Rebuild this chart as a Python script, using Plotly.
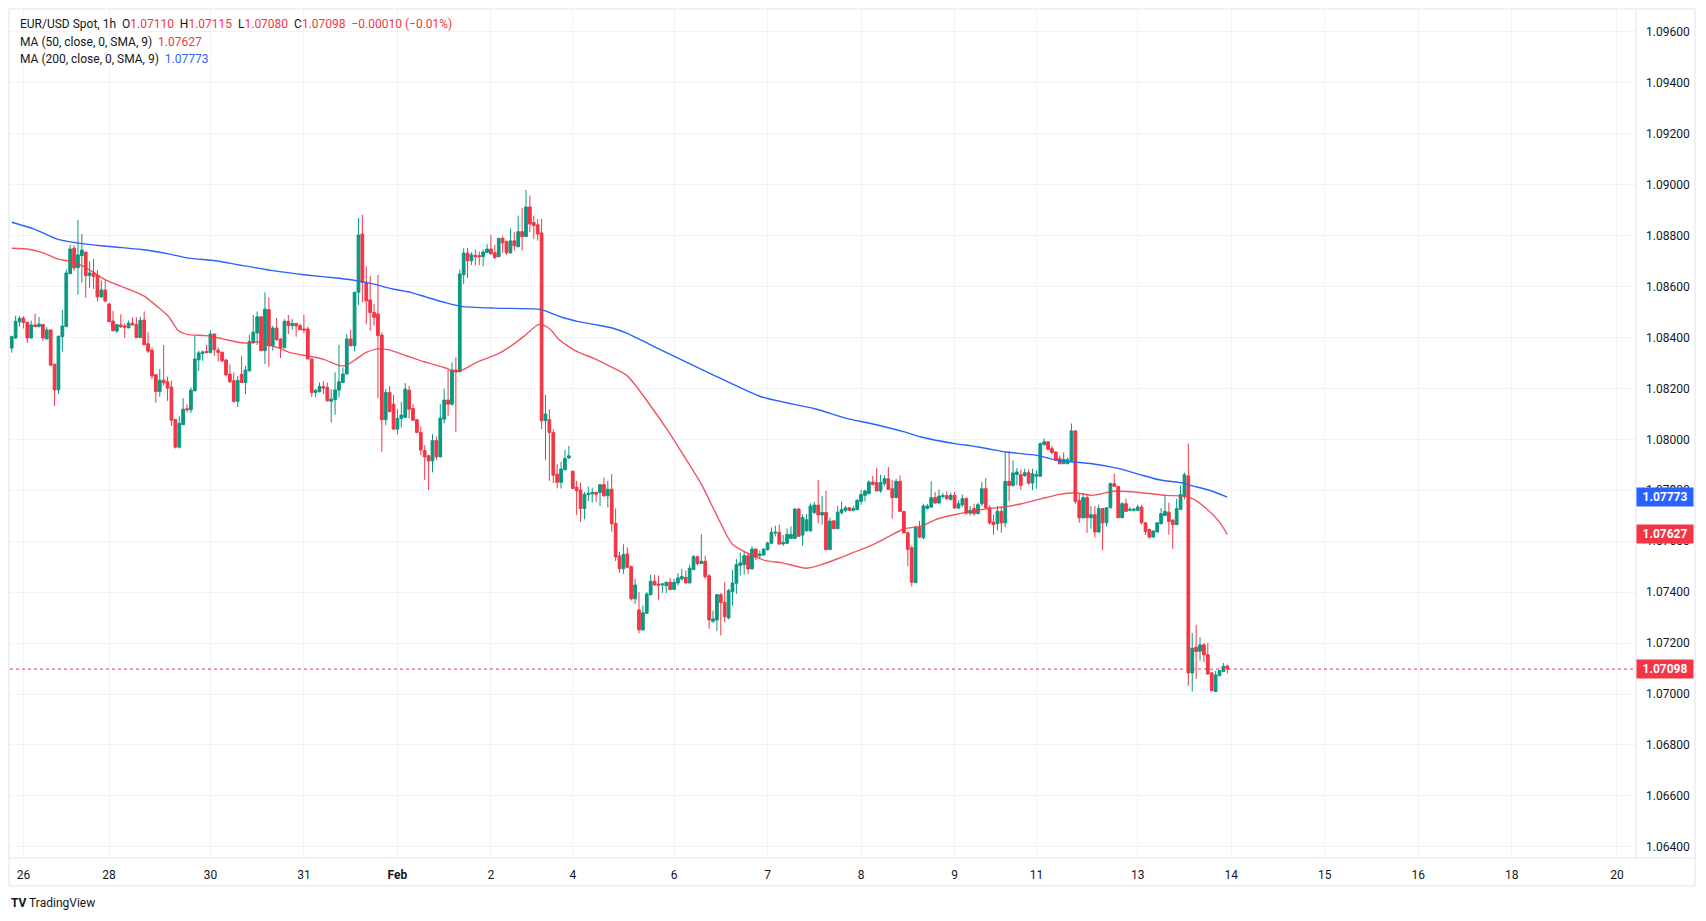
import plotly.graph_objects as go

# ---------------- data (EUR/USD spot, 1h bars) ----------------
bar_open = [
    1.08358, 1.08398, 1.08461, 1.08476, 1.08459, 1.08398, 1.08449, 1.08442, 1.08451, 1.08394,
    1.08429, 1.08295, 1.08194, 1.08403, 1.08442, 1.08650, 1.08750, 1.08674, 1.08721, 1.08735,
    1.08643, 1.08653, 1.08643, 1.08559, 1.08586, 1.08531, 1.08464, 1.08425, 1.08449, 1.08445,
    1.08437, 1.08456, 1.08451, 1.08399, 1.08468, 1.08375, 1.08350, 1.08253, 1.08188, 1.08232,
    1.08226, 1.08205, 1.08078, 1.07969, 1.08057, 1.08120, 1.08116, 1.08190, 1.08312, 1.08337,
    1.08345, 1.08340, 1.08413, 1.08350, 1.08342, 1.08311, 1.08256, 1.08230, 1.08149, 1.08255,
    1.08223, 1.08269, 1.08380, 1.08417, 1.08481, 1.08348, 1.08509, 1.08367, 1.08437, 1.08394,
    1.08359, 1.08463, 1.08446, 1.08455, 1.08446, 1.08433, 1.08433, 1.08315, 1.08184, 1.08187,
    1.08207, 1.08204, 1.08149, 1.08156, 1.08193, 1.08223, 1.08256, 1.08394, 1.08367, 1.08577,
    1.08806, 1.08616, 1.08547, 1.08498, 1.08492, 1.08409, 1.08077, 1.08184, 1.08138, 1.08040,
    1.08082, 1.08086, 1.08193, 1.08121, 1.08077, 1.08027, 1.07956, 1.07935, 1.07915, 1.07995,
    1.07931, 1.08079, 1.08154, 1.08138, 1.08272, 1.08265, 1.08646, 1.08731, 1.08701, 1.08722,
    1.08721, 1.08717, 1.08733, 1.08747, 1.08732, 1.08717, 1.08789, 1.08776, 1.08732, 1.08779,
    1.08756, 1.08815, 1.08796, 1.08912, 1.08851, 1.08842, 1.08810, 1.08073, 1.08077, 1.08027,
    1.07863, 1.07831, 1.07880, 1.07927, 1.07875, 1.07812, 1.07801, 1.07728, 1.07783, 1.07786,
    1.07792, 1.07791, 1.07822, 1.07778, 1.07804, 1.07670, 1.07542, 1.07492, 1.07550, 1.07500,
    1.07374, 1.07330, 1.07252, 1.07317, 1.07390, 1.07443, 1.07432, 1.07428, 1.07426, 1.07439,
    1.07410, 1.07436, 1.07452, 1.07458, 1.07436, 1.07488, 1.07539, 1.07512, 1.07521, 1.07464,
    1.07285, 1.07291, 1.07390, 1.07360, 1.07299, 1.07402, 1.07435, 1.07504, 1.07508, 1.07543,
    1.07491, 1.07569, 1.07543, 1.07546, 1.07567, 1.07592, 1.07632, 1.07635, 1.07589, 1.07592,
    1.07611, 1.07611, 1.07726, 1.07624, 1.07641, 1.07641, 1.07713, 1.07742, 1.07703, 1.07713,
    1.07567, 1.07680, 1.07649, 1.07712, 1.07721, 1.07731, 1.07721, 1.07724, 1.07756, 1.07780,
    1.07786, 1.07832, 1.07830, 1.07797, 1.07826, 1.07845, 1.07806, 1.07771, 1.07835, 1.07717,
    1.07633, 1.07574, 1.07437, 1.07654, 1.07614, 1.07728, 1.07734, 1.07771, 1.07750, 1.07775,
    1.07779, 1.07764, 1.07780, 1.07730, 1.07743, 1.07767, 1.07710, 1.07728, 1.07708, 1.07747,
    1.07806, 1.07731, 1.07675, 1.07669, 1.07717, 1.07672, 1.07835, 1.07819, 1.07862, 1.07861,
    1.07858, 1.07869, 1.07828, 1.07855, 1.07855, 1.07979, 1.07990, 1.07963, 1.07950, 1.07924,
    1.07904, 1.07904, 1.07917, 1.08033, 1.07760, 1.07692, 1.07771, 1.07692, 1.07704, 1.07636,
    1.07728, 1.07672, 1.07731, 1.07826, 1.07815, 1.07692, 1.07747, 1.07721, 1.07721, 1.07721,
    1.07734, 1.07672, 1.07646, 1.07616, 1.07636, 1.07669, 1.07701, 1.07714, 1.07682, 1.07665,
    1.07725, 1.07777, 1.07856, 1.07083, 1.07184, 1.07168, 1.07193, 1.07154, 1.07083, 1.07010,
    1.07072, 1.07088, 1.07110,
]

bar_high = [
    1.08407, 1.08485, 1.08485, 1.08483, 1.08462, 1.08466, 1.08494, 1.08480, 1.08451, 1.08440,
    1.08433, 1.08295, 1.08405, 1.08508, 1.08666, 1.08763, 1.08762, 1.08861, 1.08806, 1.08735,
    1.08699, 1.08708, 1.08665, 1.08623, 1.08625, 1.08535, 1.08504, 1.08452, 1.08491, 1.08455,
    1.08466, 1.08479, 1.08479, 1.08481, 1.08502, 1.08420, 1.08361, 1.08255, 1.08276, 1.08370,
    1.08246, 1.08230, 1.08078, 1.08091, 1.08162, 1.08137, 1.08204, 1.08409, 1.08348, 1.08348,
    1.08371, 1.08429, 1.08416, 1.08361, 1.08342, 1.08315, 1.08294, 1.08263, 1.08249, 1.08328,
    1.08289, 1.08411, 1.08488, 1.08502, 1.08481, 1.08577, 1.08557, 1.08446, 1.08476, 1.08396,
    1.08472, 1.08488, 1.08472, 1.08456, 1.08454, 1.08488, 1.08442, 1.08318, 1.08197, 1.08223,
    1.08228, 1.08223, 1.08197, 1.08263, 1.08371, 1.08282, 1.08413, 1.08430, 1.08579, 1.08869,
    1.08881, 1.08679, 1.08642, 1.08531, 1.08645, 1.08420, 1.08197, 1.08209, 1.08174, 1.08118,
    1.08147, 1.08221, 1.08210, 1.08138, 1.08079, 1.08051, 1.07977, 1.07940, 1.08020, 1.08011,
    1.08138, 1.08199, 1.08272, 1.08302, 1.08322, 1.08666, 1.08750, 1.08750, 1.08734, 1.08745,
    1.08737, 1.08745, 1.08767, 1.08802, 1.08763, 1.08789, 1.08797, 1.08780, 1.08828, 1.08813,
    1.08878, 1.08907, 1.08979, 1.08957, 1.08878, 1.08865, 1.08865, 1.08174, 1.08118, 1.08040,
    1.07902, 1.07912, 1.07959, 1.07974, 1.07875, 1.07837, 1.07830, 1.07793, 1.07814, 1.07810,
    1.07793, 1.07822, 1.07850, 1.07837, 1.07863, 1.07728, 1.07558, 1.07588, 1.07576, 1.07504,
    1.07452, 1.07400, 1.07347, 1.07400, 1.07469, 1.07468, 1.07465, 1.07436, 1.07441, 1.07455,
    1.07452, 1.07475, 1.07491, 1.07485, 1.07507, 1.07546, 1.07543, 1.07628, 1.07543, 1.07471,
    1.07328, 1.07393, 1.07397, 1.07439, 1.07413, 1.07487, 1.07530, 1.07556, 1.07559, 1.07554,
    1.07580, 1.07572, 1.07563, 1.07572, 1.07598, 1.07654, 1.07661, 1.07665, 1.07624, 1.07650,
    1.07658, 1.07730, 1.07730, 1.07706, 1.07706, 1.07749, 1.07755, 1.07840, 1.07778, 1.07798,
    1.07693, 1.07682, 1.07738, 1.07756, 1.07738, 1.07733, 1.07738, 1.07767, 1.07803, 1.07803,
    1.07839, 1.07856, 1.07887, 1.07861, 1.07859, 1.07891, 1.07841, 1.07845, 1.07858, 1.07717,
    1.07636, 1.07583, 1.07659, 1.07680, 1.07747, 1.07747, 1.07835, 1.07793, 1.07803, 1.07790,
    1.07796, 1.07790, 1.07793, 1.07760, 1.07783, 1.07773, 1.07738, 1.07747, 1.07751, 1.07832,
    1.07848, 1.07741, 1.07704, 1.07738, 1.07738, 1.07950, 1.07954, 1.07917, 1.07887, 1.07882,
    1.07885, 1.07882, 1.07885, 1.07878, 1.07987, 1.08003, 1.07992, 1.07974, 1.07953, 1.07937,
    1.07948, 1.07927, 1.08062, 1.08035, 1.07786, 1.07790, 1.07783, 1.07738, 1.07738, 1.07743,
    1.07730, 1.07734, 1.07830, 1.07865, 1.07817, 1.07754, 1.07767, 1.07734, 1.07731, 1.07743,
    1.07743, 1.07675, 1.07649, 1.07642, 1.07675, 1.07730, 1.07780, 1.07751, 1.07688, 1.07767,
    1.07819, 1.07869, 1.07983, 1.07240, 1.07272, 1.07223, 1.07201, 1.07201, 1.07086, 1.07092,
    1.07092, 1.07122, 1.07115,
]

bar_low = [
    1.08340, 1.08394, 1.08442, 1.08435, 1.08378, 1.08395, 1.08442, 1.08442, 1.08387, 1.08394,
    1.08289, 1.08131, 1.08179, 1.08344, 1.08442, 1.08650, 1.08662, 1.08568, 1.08615, 1.08555,
    1.08595, 1.08590, 1.08542, 1.08556, 1.08538, 1.08459, 1.08424, 1.08417, 1.08437, 1.08398,
    1.08437, 1.08446, 1.08398, 1.08399, 1.08371, 1.08339, 1.08236, 1.08143, 1.08167, 1.08210,
    1.08151, 1.08053, 1.07964, 1.07964, 1.08057, 1.08105, 1.08103, 1.08190, 1.08269, 1.08308,
    1.08340, 1.08340, 1.08328, 1.08305, 1.08302, 1.08247, 1.08221, 1.08143, 1.08127, 1.08221,
    1.08177, 1.08265, 1.08374, 1.08370, 1.08348, 1.08295, 1.08285, 1.08348, 1.08387, 1.08319,
    1.08359, 1.08413, 1.08430, 1.08403, 1.08430, 1.08417, 1.08315, 1.08167, 1.08164, 1.08184,
    1.08177, 1.08149, 1.08066, 1.08096, 1.08164, 1.08221, 1.08256, 1.08367, 1.08346, 1.08527,
    1.08538, 1.08452, 1.08426, 1.08446, 1.08162, 1.07951, 1.08056, 1.08105, 1.08037, 1.08020,
    1.08046, 1.08083, 1.08082, 1.08073, 1.08024, 1.07937, 1.07841, 1.07802, 1.07870, 1.07919,
    1.07931, 1.08062, 1.08092, 1.08132, 1.08029, 1.08265, 1.08610, 1.08633, 1.08684, 1.08682,
    1.08684, 1.08679, 1.08732, 1.08724, 1.08708, 1.08717, 1.08732, 1.08724, 1.08728, 1.08742,
    1.08754, 1.08741, 1.08796, 1.08813, 1.08786, 1.08780, 1.08040, 1.07919, 1.07837, 1.07828,
    1.07807, 1.07807, 1.07879, 1.07922, 1.07804, 1.07703, 1.07677, 1.07686, 1.07758, 1.07752,
    1.07754, 1.07738, 1.07775, 1.07732, 1.07637, 1.07522, 1.07476, 1.07472, 1.07494, 1.07367,
    1.07354, 1.07238, 1.07248, 1.07314, 1.07387, 1.07426, 1.07370, 1.07397, 1.07396, 1.07409,
    1.07410, 1.07426, 1.07445, 1.07436, 1.07436, 1.07488, 1.07504, 1.07512, 1.07452, 1.07256,
    1.07281, 1.07247, 1.07230, 1.07282, 1.07293, 1.07347, 1.07393, 1.07465, 1.07469, 1.07471,
    1.07491, 1.07526, 1.07530, 1.07543, 1.07563, 1.07589, 1.07619, 1.07585, 1.07582, 1.07589,
    1.07608, 1.07611, 1.07619, 1.07582, 1.07637, 1.07637, 1.07706, 1.07670, 1.07665, 1.07563,
    1.07567, 1.07649, 1.07649, 1.07705, 1.07714, 1.07718, 1.07717, 1.07721, 1.07743, 1.07756,
    1.07786, 1.07819, 1.07797, 1.07790, 1.07815, 1.07803, 1.07688, 1.07771, 1.07714, 1.07629,
    1.07502, 1.07422, 1.07437, 1.07612, 1.07607, 1.07725, 1.07730, 1.07747, 1.07747, 1.07767,
    1.07763, 1.07760, 1.07728, 1.07725, 1.07734, 1.07704, 1.07701, 1.07699, 1.07708, 1.07738,
    1.07728, 1.07665, 1.07625, 1.07642, 1.07633, 1.07655, 1.07756, 1.07813, 1.07819, 1.07802,
    1.07852, 1.07822, 1.07800, 1.07806, 1.07852, 1.07976, 1.07957, 1.07940, 1.07914, 1.07902,
    1.07904, 1.07904, 1.07915, 1.07747, 1.07672, 1.07688, 1.07633, 1.07649, 1.07614, 1.07633,
    1.07564, 1.07659, 1.07731, 1.07813, 1.07691, 1.07691, 1.07717, 1.07718, 1.07717, 1.07718,
    1.07665, 1.07625, 1.07610, 1.07616, 1.07636, 1.07665, 1.07701, 1.07625, 1.07570, 1.07665,
    1.07725, 1.07764, 1.07033, 1.07010, 1.07059, 1.07131, 1.07125, 1.07075, 1.07010, 1.07010,
    1.07070, 1.07088, 1.07080,
]

bar_close = [
    1.08403, 1.08463, 1.08475, 1.08458, 1.08398, 1.08449, 1.08442, 1.08452, 1.08398, 1.08429,
    1.08291, 1.08194, 1.08405, 1.08445, 1.08653, 1.08747, 1.08673, 1.08724, 1.08743, 1.08643,
    1.08653, 1.08639, 1.08559, 1.08586, 1.08543, 1.08462, 1.08426, 1.08450, 1.08442, 1.08440,
    1.08456, 1.08449, 1.08399, 1.08467, 1.08371, 1.08346, 1.08249, 1.08188, 1.08232, 1.08222,
    1.08201, 1.08075, 1.07969, 1.08063, 1.08118, 1.08116, 1.08193, 1.08315, 1.08339, 1.08343,
    1.08340, 1.08413, 1.08352, 1.08341, 1.08308, 1.08253, 1.08226, 1.08149, 1.08231, 1.08223,
    1.08272, 1.08384, 1.08420, 1.08481, 1.08348, 1.08511, 1.08367, 1.08437, 1.08391, 1.08359,
    1.08463, 1.08446, 1.08455, 1.08445, 1.08430, 1.08429, 1.08315, 1.08184, 1.08192, 1.08207,
    1.08201, 1.08151, 1.08158, 1.08194, 1.08226, 1.08256, 1.08394, 1.08367, 1.08577, 1.08802,
    1.08616, 1.08543, 1.08498, 1.08479, 1.08407, 1.08077, 1.08184, 1.08109, 1.08040, 1.08082,
    1.08095, 1.08197, 1.08118, 1.08075, 1.08027, 1.07958, 1.07931, 1.07915, 1.07995, 1.07931,
    1.08083, 1.08154, 1.08138, 1.08272, 1.08265, 1.08649, 1.08731, 1.08701, 1.08724, 1.08717,
    1.08717, 1.08735, 1.08747, 1.08728, 1.08714, 1.08789, 1.08771, 1.08732, 1.08779, 1.08760,
    1.08815, 1.08796, 1.08912, 1.08845, 1.08839, 1.08806, 1.08073, 1.08099, 1.08027, 1.07859,
    1.07831, 1.07883, 1.07925, 1.07935, 1.07807, 1.07798, 1.07728, 1.07784, 1.07788, 1.07791,
    1.07784, 1.07822, 1.07778, 1.07804, 1.07668, 1.07538, 1.07492, 1.07548, 1.07498, 1.07374,
    1.07428, 1.07252, 1.07319, 1.07393, 1.07443, 1.07428, 1.07426, 1.07432, 1.07439, 1.07410,
    1.07439, 1.07456, 1.07461, 1.07436, 1.07494, 1.07539, 1.07512, 1.07521, 1.07461, 1.07291,
    1.07295, 1.07390, 1.07359, 1.07304, 1.07406, 1.07436, 1.07508, 1.07515, 1.07543, 1.07491,
    1.07569, 1.07537, 1.07550, 1.07569, 1.07593, 1.07635, 1.07635, 1.07589, 1.07595, 1.07627,
    1.07627, 1.07726, 1.07619, 1.07693, 1.07684, 1.07738, 1.07742, 1.07703, 1.07713, 1.07567,
    1.07679, 1.07649, 1.07714, 1.07724, 1.07731, 1.07721, 1.07728, 1.07760, 1.07783, 1.07797,
    1.07832, 1.07823, 1.07797, 1.07830, 1.07845, 1.07803, 1.07771, 1.07835, 1.07717, 1.07633,
    1.07568, 1.07439, 1.07654, 1.07616, 1.07738, 1.07738, 1.07771, 1.07750, 1.07777, 1.07779,
    1.07767, 1.07780, 1.07730, 1.07747, 1.07767, 1.07710, 1.07721, 1.07708, 1.07743, 1.07806,
    1.07731, 1.07672, 1.07665, 1.07717, 1.07672, 1.07835, 1.07819, 1.07868, 1.07872, 1.07819,
    1.07869, 1.07828, 1.07865, 1.07861, 1.07983, 1.07990, 1.07961, 1.07948, 1.07917, 1.07904,
    1.07921, 1.07921, 1.08033, 1.07756, 1.07692, 1.07771, 1.07692, 1.07704, 1.07636, 1.07728,
    1.07672, 1.07731, 1.07826, 1.07815, 1.07692, 1.07747, 1.07717, 1.07725, 1.07725, 1.07734,
    1.07672, 1.07638, 1.07616, 1.07640, 1.07672, 1.07708, 1.07717, 1.07678, 1.07665, 1.07728,
    1.07783, 1.07861, 1.07083, 1.07180, 1.07167, 1.07193, 1.07154, 1.07079, 1.07014, 1.07075,
    1.07092, 1.07109, 1.07098,
]

# moving averages as drawn on the chart (bar position, value)
ma200_pos = [0, 5.6, 11.7, 14.3, 18.6, 22.9, 27.2, 33.3, 40.2, 45.4, 52.3, 58.5, 67, 75.6, 84,
             88.4, 92.7, 97.8, 102.4, 106.7, 111, 115.3, 123.9, 135.1, 136.8, 141.2, 145.5,
             149.8, 154.1, 158, 164.6, 178.5, 192.5, 206.4, 214.5, 220.5, 229.1, 233.4, 242,
             246.3, 250.6, 255.3, 263, 268.7, 277.3, 284.2, 290.2, 294.5, 300.6, 303.1, 307.4, 312]
ma200_val = [1.08852, 1.08826, 1.08786, 1.08777, 1.08767, 1.08760, 1.08754, 1.08745, 1.08728,
             1.08711, 1.08701, 1.08684, 1.08662, 1.08645, 1.08632, 1.08623, 1.08610, 1.08590,
             1.08577, 1.08557, 1.08538, 1.08522, 1.08515, 1.08511, 1.08505, 1.08479, 1.08462,
             1.08450, 1.08437, 1.08416, 1.08366, 1.08264, 1.08166, 1.08119, 1.08081, 1.08062,
             1.08029, 1.08009, 1.07983, 1.07974, 1.07963, 1.07950, 1.07937, 1.07917, 1.07904,
             1.07885, 1.07859, 1.07841, 1.07828, 1.07817, 1.07800, 1.07773]

ma50_pos = [0, 3.9, 8.2, 11.7, 14.3, 17.7, 20.3, 22.9, 25.5, 29.8, 34.1, 37.6, 40.2, 42.8, 45.4,
            50, 54.2, 58.5, 61.1, 62.8, 65.4, 68.8, 71.3, 75.6, 79.9, 84.2, 85.9, 88.4, 91, 93.6,
            96.6, 101.3, 105.1, 111, 114.1, 116.2, 119.6, 124.8, 128.2, 131.7, 135.1, 136.8,
            138.6, 140.3, 144.6, 149.8, 154.1, 158, 168.2, 172, 177, 180.6, 184.9, 189.2, 193.5,
            197.8, 203.8, 207.7, 212, 216.2, 220.5, 224.8, 229.1, 233.4, 237.7, 242, 246.3,
            250.6, 254.9, 259.2, 264.4, 268.7, 273, 277.3, 283.4, 290.2, 296.3, 300.6, 303.1,
            306.6, 310, 312]
ma50_val = [1.08750, 1.08747, 1.08731, 1.08708, 1.08701, 1.08684, 1.08662, 1.08636, 1.08616,
            1.08590, 1.08561, 1.08518, 1.08483, 1.08426, 1.08411, 1.08407, 1.08394, 1.08380,
            1.08378, 1.08383, 1.08374, 1.08357, 1.08341, 1.08328, 1.08315, 1.08289, 1.08291,
            1.08315, 1.08341, 1.08354, 1.08352, 1.08328, 1.08308, 1.08282, 1.08265, 1.08276,
            1.08304, 1.08335, 1.08367, 1.08407, 1.08450, 1.08446, 1.08426, 1.08394, 1.08348,
            1.08315, 1.08282, 1.08249, 1.08039, 1.07948, 1.07824, 1.07713, 1.07589, 1.07550,
            1.07524, 1.07515, 1.07494, 1.07507, 1.07531, 1.07557, 1.07583, 1.07616, 1.07649,
            1.07659, 1.07688, 1.07704, 1.07717, 1.07728, 1.07734, 1.07747, 1.07767, 1.07783,
            1.07790, 1.07780, 1.07797, 1.07790, 1.07780, 1.07777, 1.07767, 1.07728, 1.07675,
            1.07627]

# time-axis labels (bar position of each day boundary)
date_pos = [3, 25, 51, 75, 99, 123, 144, 170, 194, 218, 242, 263, 289, 313, 337, 361, 385, 412]
date_text = ["26", "28", "30", "31", "<b>Feb</b>", "2", "4", "6", "7", "8", "9", "11", "13",
             "14", "15", "16", "18", "20"]

price_ticks = [1.064, 1.066, 1.068, 1.070, 1.072, 1.074, 1.076, 1.078, 1.080,
               1.082, 1.084, 1.086, 1.088, 1.090, 1.092, 1.094, 1.096]

last_close = 1.07098
ma50_last = 1.07627
ma200_last = 1.07773

# ---------------- figure ----------------
UP = "#089981"
DOWN = "#F23645"
BLUE = "#2962FF"
TXT = "#131722"
GRID = "#f0f3fa"
FRAME = "#e0e3eb"

bar_pos = list(range(len(bar_close)))

fig = go.Figure()
fig.add_trace(go.Candlestick(
    x=bar_pos, open=bar_open, high=bar_high, low=bar_low, close=bar_close,
    increasing=dict(line=dict(color=UP, width=1), fillcolor=UP),
    decreasing=dict(line=dict(color=DOWN, width=1), fillcolor=DOWN),
    whiskerwidth=0, hoverinfo="skip", showlegend=False,
))
fig.add_trace(go.Scatter(x=ma200_pos, y=ma200_val, mode="lines",
                         line=dict(color=BLUE, width=1.4, shape="spline", smoothing=0.6),
                         hoverinfo="skip", showlegend=False))
fig.add_trace(go.Scatter(x=ma50_pos, y=ma50_val, mode="lines",
                         line=dict(color="rgba(242,54,69,0.85)", width=1.4, shape="spline", smoothing=0.6),
                         hoverinfo="skip", showlegend=False))

FONT = "Roboto, 'Liberation Sans', sans-serif"

fig.update_layout(
    width=1706, height=921,
    margin=dict(l=10, r=70, t=10, b=63),
    paper_bgcolor="white", plot_bgcolor="white",
    showlegend=False,
    boxgap=0.3, boxgroupgap=0,
    font=dict(family=FONT, size=12, color=TXT),
    xaxis=dict(range=[-0.44, 416.9], tickmode="array", tickvals=date_pos, ticktext=date_text,
               showgrid=True, gridcolor=GRID, gridwidth=1, zeroline=False, showline=False,
               ticks="", ticklabelstandoff=8, rangeslider=dict(visible=False),
               tickfont=dict(size=12, color=TXT)),
    yaxis=dict(side="right", range=[1.063564, 1.096852], tickmode="array",
               tickvals=price_ticks, tickformat=".5f",
               showgrid=True, gridcolor=GRID, gridwidth=1, zeroline=False, showline=False,
               ticks="", ticklabelstandoff=9, tickfont=dict(size=12, color=TXT)),
)

# frame lines and last-price line
shapes = [
    dict(type="rect", xref="paper", yref="paper", x0=-0.0006, x1=1.0363, y0=-0.0330, y1=1.0012,
         line=dict(color=FRAME, width=1), fillcolor="rgba(0,0,0,0)", layer="above"),
    dict(type="line", xref="paper", yref="paper", x0=-0.0006, x1=1.0363, y0=0, y1=0,
         line=dict(color=FRAME, width=1), layer="above"),
    dict(type="line", xref="paper", yref="paper", x0=1, x1=1, y0=0, y1=1.0012,
         line=dict(color=FRAME, width=1), layer="above"),
    dict(type="line", xref="paper", yref="y", x0=0, x1=1, y0=last_close, y1=last_close,
         line=dict(color=DOWN, width=1, dash="dot"), layer="above"),
]
fig.update_layout(shapes=shapes)

R = f"<span style='color:{DOWN}'>"
S = "\u00a0\u00a0"
header1 = (f"EUR/USD Spot, 1h{S}O{R}1.07110</span>{S}H{R}1.07115</span>{S}"
           f"L{R}1.07080</span>{S}C{R}1.07098</span>{S}{R}\u22120.00010 (\u22120.01%)</span>")
header2 = f"MA (50, close, 0, SMA, 9){S}{R}1.07627</span>"
header3 = f"MA (200, close, 0, SMA, 9){S}<span style='color:{BLUE}'>1.07773</span>"

ann = []
for txt, yshift in [(header1, -14), (header2, -32), (header3, -49)]:
    ann.append(dict(xref="paper", yref="paper", x=0, y=1, xanchor="left", yanchor="middle",
                    xshift=8, yshift=yshift, text=txt, showarrow=False,
                    font=dict(family=FONT, size=12, color=TXT)))

for val, col in [(ma200_last, BLUE), (ma50_last, DOWN), (last_close, DOWN)]:
    ann.append(dict(xref="paper", yref="y", x=1, y=val, xanchor="left", yanchor="middle",
                    text=f"<b>{val:.5f}</b>", showarrow=False, bgcolor=col, borderpad=2,
                    width=52, height=14, font=dict(family=FONT, size=12, color="white")))

ann.append(dict(xref="paper", yref="paper", x=0, y=0, xanchor="left", yanchor="middle",
                xshift=-1, yshift=-45, showarrow=False,
                text="<b>TV</b> TradingView", font=dict(family=FONT, size=12, color=TXT)))
fig.update_layout(annotations=ann)

fig.write_html("out.html", config={"displayModeBar": False, "staticPlot": True},
               post_script="document.body.style.margin='0';")
